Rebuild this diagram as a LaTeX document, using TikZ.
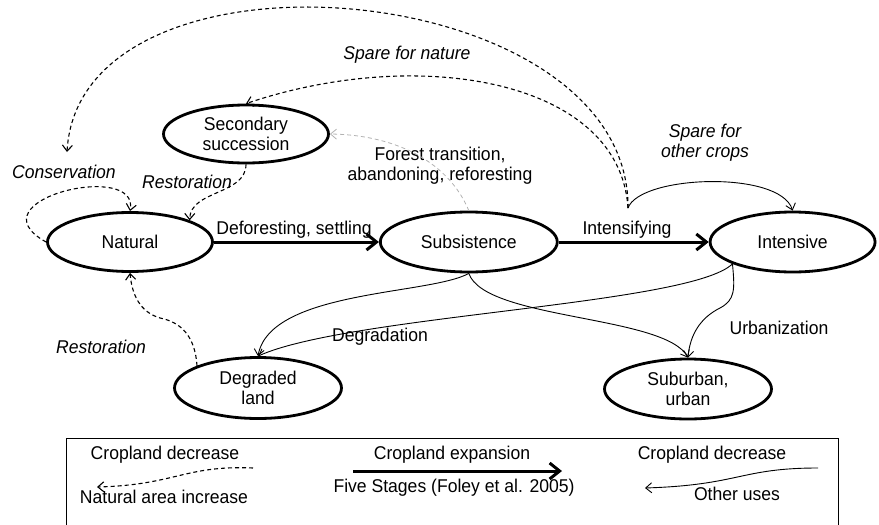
\documentclass[tikz,border=0pt]{standalone}
\usepackage{fontspec}
\setmainfont{Liberation Sans}[FakeStretch=0.95]
\usetikzlibrary{shapes.geometric, arrows.meta, positioning}

\begin{document}
\begin{tikzpicture}[x=1pt, y=-1pt, font=\fontsize{18.5}{20}\selectfont]
\tikzstyle{stage} = [ellipse, draw, line width=2.8pt, minimum width=165pt, minimum height=59pt, inner sep=0pt, align=center]
\tikzstyle{lbl} = [inner sep=1pt, align=center]
\tikzstyle{ital} = [lbl, font=\fontsize{18.5}{20}\selectfont\itshape]
\tikzstyle{expand} = [line width=3pt, -{Straight Barb[length=10pt, width=16pt]}]
\tikzstyle{otheruse} = [line width=0.9pt, -{Straight Barb[length=6pt, width=10pt]}]
\tikzstyle{natback} = [line width=1.1pt, dash pattern=on 4pt off 3pt, -{Straight Barb[length=6pt, width=10pt]}]

\useasboundingbox (0,0) rectangle (879,525);

% stages
\node (nat) [stage] at (130,242) {Natural};
\node (sub) [stage, minimum width=177pt, minimum height=60pt, right=165pt of nat] {Subsistence};
\node (int) [stage, minimum height=60pt, right=150pt of sub] {Intensive};
\node (sec) [stage, minimum height=58pt] at (246,134) {Secondary\\succession};
\node (deg) [stage, minimum width=167pt, minimum height=61pt] at (258,388) {Degraded\\land};
\node (urb) [stage, minimum width=167pt, minimum height=60pt] at (688,389) {Suburban,\\urban};

% labels
\node (defl) [lbl] at (294,230) {Deforesting, settling};
\node (intl) [lbl] at (627,230) {Intensifying};
\node (fortl) [lbl] at (440,166) {Forest transition,\\abandoning, reforesting};
\node (natl) [ital] at (407,55) {Spare for nature};
\node (cropl) [ital] at (705,143) {Spare for\\other crops};
\node (consl) [ital] at (64,172) {Conservation};
\node (res1) [ital] at (187,182) {Restoration};
\node (res2) [ital] at (101,347) {Restoration};
\node (degl) [lbl] at (380,337) {Degradation};
\node (urbl) [lbl] at (779,328) {Urbanization};

\coordinate (spare) at (628,208);
\coordinate (cons) at (67,152);

% expansion
\draw [expand] (nat) -- (sub);
\draw [expand] (sub) -- (int);

% natural area increase
\draw [natback] (spare) .. controls (630,-25) and (80,-70) .. (cons);
\draw [natback] (spare) .. controls (620,80) and (420,45) .. (sec.north);
\draw [natback, gray!60, line width=0.8pt] (sub.north) .. controls (450,165) and (400,135) .. (sec.east);
\draw [natback] (sec.south) .. controls (246,195) and (190,190) .. (nat.20);
\draw [natback] (nat.west) .. controls (-30,200) and (140,160) .. (nat.north);
\draw [natback] (deg.160) .. controls (195,335) and (180,322) .. (160,318) .. controls (140,312) and (132,295) .. (nat.south);

% other uses
\draw [otheruse] (spare) .. controls (640,175) and (780,170) .. (int.north);
\draw [otheruse] (sub.south) .. controls (430,295) and (270,290) .. (deg.north);
\draw [otheruse] (int.200) .. controls (690,305) and (350,315) .. (deg.north);
\draw [otheruse] (sub.south) .. controls (485,320) and (665,315) .. (urb.north);
\draw [otheruse] (int.200) .. controls (735,290) and (735,300) .. (720,308) .. controls (700,318) and (690,335) .. (urb.north);

% legend
\draw [line width=0.8pt] (66,530) -- (66,438) -- (838,438) -- (838,530);
\node (k1) [lbl] at (165,455) {Cropland decrease};
\node (k2) [lbl] at (164,497) {Natural area increase};
\node (k3) [lbl] at (452,455) {Cropland expansion};
\node (k4) [lbl] at (454,488) {Five Stages (Foley et al. 2005)};
\node (k5) [lbl] at (712,455) {Cropland decrease};
\node (k6) [lbl] at (737,494) {Other uses};
\coordinate (k1a) at (253,468);
\coordinate (k1b) at (97,487);
\coordinate (k3a) at (353,471);
\coordinate (k3b) at (562,471);
\coordinate (k5a) at (818,468);
\coordinate (k5b) at (645,488);
\draw [natback] (k1a) .. controls (185,465) and (175,485) .. (k1b);
\draw [expand] (k3a) -- (k3b);
\draw [otheruse] (k5a) .. controls (740,468) and (740,485) .. (k5b);

\end{tikzpicture}
\end{document}
